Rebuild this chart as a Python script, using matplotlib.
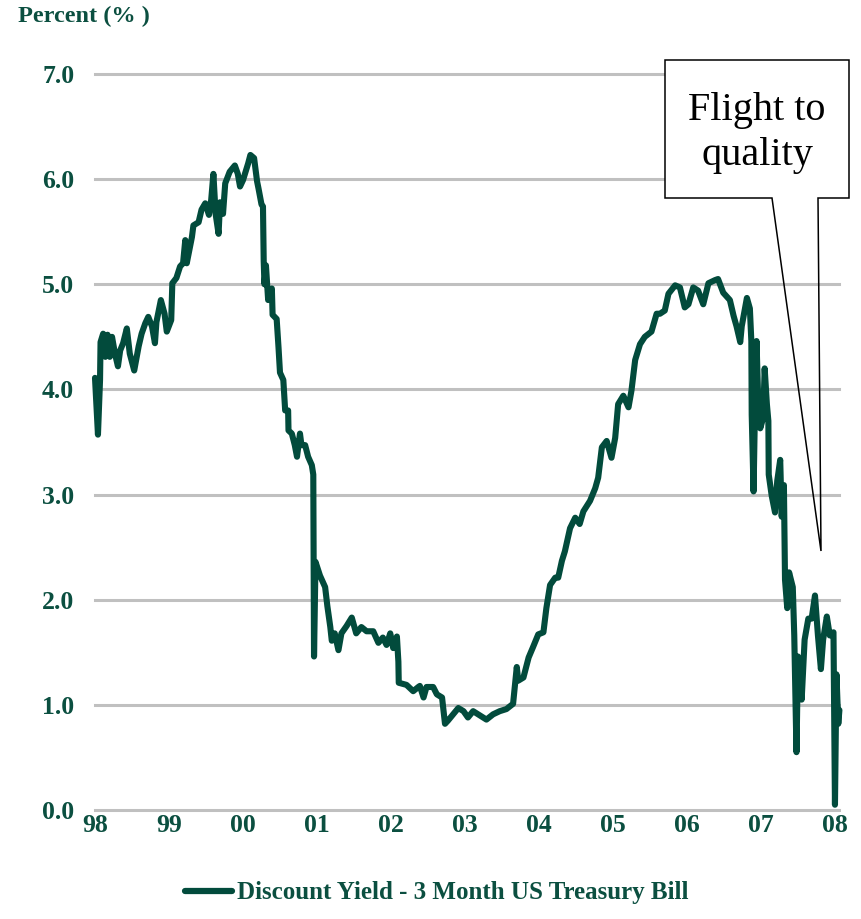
import matplotlib
matplotlib.use("Agg")
import matplotlib.pyplot as plt
from matplotlib.patches import Polygon, Rectangle

# 3 month T-bill discount yield (decimal year, percent)
years = [
    1998.00, 1998.04, 1998.068, 1998.075, 1998.11, 1998.14, 1998.17, 1998.20, 1998.23, 1998.27,
    1998.31, 1998.34, 1998.38, 1998.43, 1998.47, 1998.53, 1998.59, 1998.63, 1998.68, 1998.72,
    1998.77, 1998.81, 1998.83, 1998.89, 1998.94, 1998.97, 1999.03, 1999.045, 1999.10, 1999.15,
    1999.19, 1999.22, 1999.24, 1999.31, 1999.33, 1999.40, 1999.44, 1999.49, 1999.54, 1999.57,
    1999.60, 1999.63, 1999.67, 1999.69, 1999.73, 1999.76, 1999.82, 1999.89, 1999.93, 1999.96,
    2000.00, 2000.07, 2000.10, 2000.15, 2000.19, 2000.21, 2000.25, 2000.27, 2000.28, 2000.29,
    2000.31, 2000.34, 2000.39, 2000.40, 2000.455, 2000.48, 2000.50, 2000.545, 2000.57, 2000.61,
    2000.615, 2000.66, 2000.70, 2000.73, 2000.77, 2000.79, 2000.84, 2000.88, 2000.93, 2000.95,
    2000.96, 2000.98, 2001.04, 2001.11, 2001.14, 2001.18, 2001.20, 2001.24, 2001.29, 2001.33,
    2001.40, 2001.47, 2001.53, 2001.60, 2001.67, 2001.76, 2001.83, 2001.89, 2001.94, 2001.99,
    2002.03, 2002.08, 2002.10, 2002.105, 2002.21, 2002.30, 2002.37, 2002.39, 2002.44, 2002.48,
    2002.57, 2002.62, 2002.69, 2002.73, 2002.77, 2002.84, 2002.91, 2002.98, 2003.04, 2003.11,
    2003.20, 2003.29, 2003.38, 2003.47, 2003.56, 2003.65, 2003.70, 2003.72, 2003.79, 2003.86,
    2003.92, 2003.99, 2004.06, 2004.10, 2004.15, 2004.22, 2004.26, 2004.31, 2004.35, 2004.42,
    2004.49, 2004.55, 2004.60, 2004.69, 2004.76, 2004.80, 2004.85, 2004.915, 2004.98, 2005.03,
    2005.07, 2005.14, 2005.21, 2005.25, 2005.30, 2005.365, 2005.43, 2005.52, 2005.59, 2005.635,
    2005.70, 2005.75, 2005.84, 2005.905, 2005.97, 2006.02, 2006.085, 2006.15, 2006.22, 2006.29,
    2006.38, 2006.42, 2006.49, 2006.58, 2006.63, 2006.67, 2006.72, 2006.74, 2006.81, 2006.85,
    2006.87, 2006.875, 2006.90, 2006.92, 2006.94, 2006.96, 2006.99, 2007.03, 2007.05, 2007.08,
    2007.10, 2007.105, 2007.145, 2007.19, 2007.22, 2007.26, 2007.28, 2007.31, 2007.325, 2007.355,
    2007.38, 2007.43, 2007.45, 2007.46, 2007.48, 2007.50, 2007.55, 2007.59, 2007.64, 2007.685,
    2007.73, 2007.77, 2007.81, 2007.84, 2007.89, 2007.93, 2007.98, 2008.00, 2008.02, 2008.045,
    2008.06,
]
yields = [
    4.11, 3.57, 4.09, 4.45, 4.53, 4.31, 4.52, 4.31, 4.50, 4.34,
    4.22, 4.37, 4.44, 4.58, 4.34, 4.18, 4.41, 4.53, 4.63, 4.69,
    4.60, 4.44, 4.64, 4.85, 4.72, 4.55, 4.66, 5.01, 5.06, 5.17,
    5.20, 5.42, 5.20, 5.45, 5.56, 5.59, 5.71, 5.77, 5.66, 5.80,
    6.05, 5.67, 5.48, 5.78, 5.67, 5.96, 6.07, 6.13, 6.05, 5.93,
    5.99, 6.15, 6.23, 6.20, 5.98, 5.91, 5.76, 5.74, 5.22, 5.00,
    5.18, 4.85, 4.96, 4.71, 4.67, 4.40, 4.16, 4.09, 3.80, 3.80,
    3.61, 3.58, 3.47, 3.36, 3.58, 3.47, 3.47, 3.36, 3.28, 3.19,
    1.46, 2.36, 2.23, 2.12, 1.94, 1.74, 1.61, 1.68, 1.52, 1.68,
    1.75, 1.83, 1.68, 1.74, 1.70, 1.70, 1.59, 1.64, 1.57, 1.68,
    1.54, 1.65, 1.41, 1.21, 1.19, 1.13, 1.17, 1.18, 1.07, 1.17,
    1.17, 1.10, 1.07, 0.82, 0.85, 0.91, 0.97, 0.94, 0.88, 0.94,
    0.90, 0.86, 0.91, 0.94, 0.96, 1.01, 1.36, 1.23, 1.26, 1.45,
    1.55, 1.67, 1.69, 1.92, 2.14, 2.21, 2.21, 2.37, 2.46, 2.68,
    2.78, 2.72, 2.84, 2.94, 3.06, 3.16, 3.45, 3.51, 3.35, 3.54,
    3.86, 3.94, 3.83, 3.99, 4.28, 4.43, 4.50, 4.55, 4.72, 4.72,
    4.75, 4.91, 4.99, 4.97, 4.78, 4.81, 4.97, 4.94, 4.81, 5.01,
    5.04, 5.05, 4.92, 4.85, 4.70, 4.60, 4.45, 4.60, 4.87, 4.77,
    4.46, 3.76, 3.03, 3.86, 4.46, 3.96, 3.63, 3.73, 4.20, 3.86,
    3.70, 3.19, 2.99, 2.83, 3.13, 3.33, 2.79, 3.09, 2.19, 1.92,
    2.26, 2.12, 1.66, 1.29, 0.55, 1.46, 1.05, 1.62, 1.82, 1.82,
    2.04, 1.66, 1.34, 1.62, 1.84, 1.66, 1.69, 0.05, 1.29, 0.82,
    0.95,
]

x_ticks = [1998, 1999, 2000, 2001, 2002, 2003, 2004, 2005, 2006, 2007, 2008]
x_labels = ["98", "99", "00", "01", "02", "03", "04", "05", "06", "07", "08"]
y_ticks = [0, 1, 2, 3, 4, 5, 6, 7]
y_labels = ["0.0", "1.0", "2.0", "3.0", "4.0", "5.0", "6.0", "7.0"]

series_name = "Discount Yield - 3 Month US Treasury Bill"
callout_text = "Flight to\nquality"

GREEN = "#024b3c"
LABEL = "#0b4f40"
GRID = "#c0c0c0"
W, H = 862, 919


# pixel position (from top-left) to figure fraction
def fig_xy(px, py):
    return (px / W, 1 - py / H)


def main():
    plt.rcParams['font.family'] = ['Liberation Serif', 'DejaVu Serif']
    fig = plt.figure(figsize=(W / 100, H / 100), dpi=100)
    ax = fig.add_axes([95 / W, (H - 810) / H, 744.4 / W, 736 / H])

    for y in y_ticks:
        ax.axhline(y, color=GRID, lw=2.2, zorder=1, clip_on=False)

    ax.plot(years, yields, color=GREEN, lw=4.4, solid_joinstyle='round',
            solid_capstyle='round', zorder=3, clip_on=False, label=series_name)

    ax.set_xlim(1998, 2008.06)
    ax.set_ylim(0, 7)
    ax.set_xticks(x_ticks)
    ax.set_xticklabels(x_labels)
    ax.set_yticks(y_ticks)
    ax.set_yticklabels(y_labels)
    ax.tick_params(length=0, labelsize=18.5, labelcolor=LABEL)
    ax.tick_params(axis='y', pad=15)
    ax.tick_params(axis='x', pad=3)
    for lab in ax.get_xticklabels() + ax.get_yticklabels():
        lab.set_fontweight('bold')
    for s in ax.spines.values():
        s.set_visible(False)
    ax.patch.set_visible(False)

    fig.text(*fig_xy(18, 6), "Percent (% )", ha='left', va='top',
             fontsize=17.5, fontweight='bold', color=LABEL)

    # callout box with pointer
    fig.patches.append(Rectangle(fig_xy(665, 198), 184 / W, 138 / H,
                                 transform=fig.transFigure, facecolor='white',
                                 edgecolor='none', zorder=5))
    outline = [fig_xy(665, 60), fig_xy(849, 60), fig_xy(849, 198), fig_xy(818, 198),
               fig_xy(821, 551), fig_xy(772, 198), fig_xy(665, 198)]
    fig.patches.append(Polygon(outline, closed=True, fill=False, edgecolor='black',
                               lw=1.1, transform=fig.transFigure, zorder=6))
    fig.text(*fig_xy(757, 133), callout_text, ha='center', va='center',
             fontsize=29, linespacing=1.32, color='black', zorder=7)

    leg = fig.legend(loc='center', bbox_to_anchor=fig_xy(437, 893), frameon=False,
                     handlelength=1.9, handletextpad=0.2, borderaxespad=0,
                     prop={'size': 18, 'weight': 'bold'}, labelcolor=LABEL)
    for line in leg.get_lines():
        line.set_linewidth(4.5)

    fig.savefig("out.png", dpi=100)


if __name__ == "__main__":
    main()
